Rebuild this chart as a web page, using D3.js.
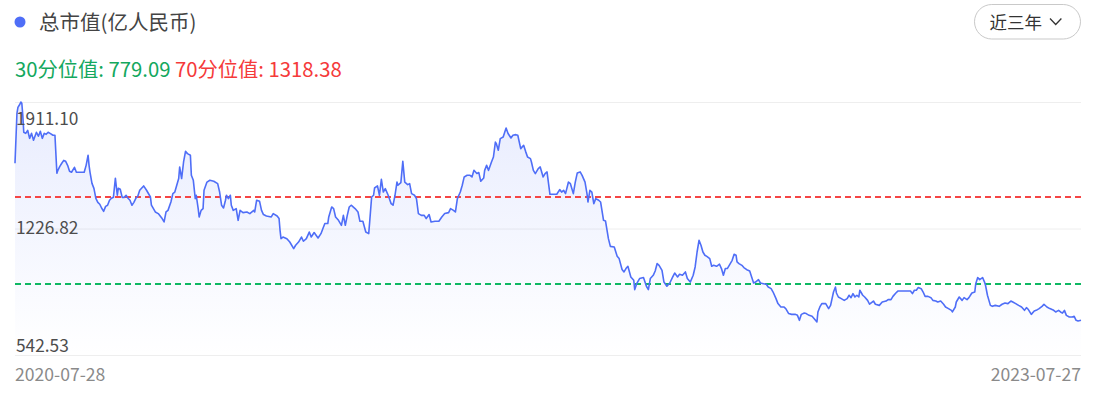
<!DOCTYPE html>
<html>
<head>
<meta charset="utf-8">
<script src="https://cdn.jsdelivr.net/npm/d3@7"></script>
<style>
    html, body { margin: 0; padding: 0; background: #fff; }
    svg { display: block; font-family: "Noto Sans CJK SC", "Noto Sans", sans-serif; }
</style>
</head>
<body>
<div id="chart"></div>
<script>
(function() {
    'use strict';

    // 总市值, 近三年 (calendar days since 2020-07-28, 亿人民币)
    let dayOffsets = [
        0, 2, 3, 5, 6, 7, 8, 9, 11, 13,
        15, 17, 19, 22, 24, 26, 28, 30, 32, 34,
        36, 39, 41, 43, 44, 46, 48, 50, 52, 54,
        56, 58, 61, 63, 67, 71, 73, 75, 76, 77,
        79, 81, 83, 85, 87, 89, 91, 93, 95, 97,
        99, 101, 103, 105, 106, 108, 110, 112, 114, 116,
        118, 120, 122, 124, 126, 128, 132, 135, 139, 140,
        144, 147, 151, 153, 155, 157, 160, 162, 164, 166,
        168, 169, 171, 173, 175, 177, 180, 181, 183, 185,
        186, 188, 189, 191, 193, 194, 197, 200, 204, 208,
        210, 212, 214, 216, 217, 219, 221, 222, 224, 227,
        229, 231, 234, 238, 241, 245, 246, 248, 251, 253,
        255, 258, 263, 265, 269, 271, 272, 273, 275, 279,
        282, 286, 288, 291, 294, 296, 299, 302, 304, 307,
        311, 314, 316, 318, 321, 322, 325, 327, 329, 332,
        335, 337, 339, 341, 343, 345, 349, 352, 354, 357,
        360, 363, 364, 366, 368, 369, 372, 374, 376, 378,
        380, 383, 386, 388, 390, 392, 393, 396, 398, 400,
        403, 405, 407, 410, 412, 414, 417, 420, 422, 425,
        427, 431, 435, 438, 441, 445, 447, 450, 452, 454,
        457, 459, 461, 464, 467, 469, 471, 474, 476, 478,
        481, 482, 484, 486, 489, 491, 493, 494, 496, 498,
        501, 504, 506, 509, 511, 514, 516, 519, 522, 524,
        526, 529, 530, 532, 534, 537, 539, 542, 544, 546,
        549, 552, 556, 559, 561, 563, 565, 568, 570, 573,
        575, 577, 580, 582, 585, 587, 588, 590, 592, 594,
        596, 599, 601, 604, 606, 609, 611, 615, 618, 620,
        623, 625, 627, 629, 632, 635, 636, 638, 641, 645,
        648, 650, 652, 655, 657, 659, 661, 664, 666, 669,
        672, 675, 677, 680, 682, 685, 688, 690, 693, 696,
        698, 700, 702, 704, 706, 708, 710, 713, 715, 717,
        720, 723, 725, 727, 729, 731, 733, 736, 738, 740,
        741, 743, 746, 748, 751, 754, 756, 758, 760, 763,
        765, 768, 771, 773, 776, 778, 781, 783, 786, 789,
        791, 794, 797, 801, 803, 805, 807, 810, 812, 815,
        818, 820, 823, 824, 826, 828, 832, 835, 837, 840,
        842, 843, 845, 848, 851, 854, 856, 858, 860, 862,
        864, 866, 867, 870, 872, 875, 877, 881, 883, 887,
        890, 894, 896, 899, 901, 904, 906, 910, 915, 919,
        921, 923, 925, 927, 930, 932, 934, 937, 940, 942,
        945, 947, 950, 953, 955, 958, 961, 962, 965, 966,
        969, 972, 974, 977, 979, 982, 985, 986, 988, 990,
        993, 995, 996, 998, 1001, 1003, 1006, 1010, 1013, 1016,
        1019, 1022, 1024, 1027, 1030, 1033, 1036, 1038, 1040, 1043,
        1046, 1048, 1051, 1054, 1056, 1059, 1062, 1066, 1068, 1071,
        1073, 1075, 1077, 1079, 1082, 1085, 1087, 1089, 1091, 1094
    ];

    let marketCap = [
        1530, 1841, 1878, 1897, 1911.10, 1903, 1828, 1723, 1716, 1735,
        1685, 1716, 1673, 1723, 1698, 1729, 1685, 1716, 1710, 1723,
        1716, 1704, 1704, 1468, 1486, 1511, 1530, 1548, 1542, 1517,
        1480, 1474, 1505, 1474, 1474, 1474, 1517, 1580, 1517, 1474,
        1405, 1374, 1312, 1287, 1275, 1250, 1231, 1262, 1269, 1300,
        1312, 1318, 1437, 1331, 1374, 1368, 1318, 1318, 1331, 1312,
        1300, 1269, 1287, 1312, 1325, 1362, 1389, 1362, 1320, 1269,
        1227, 1217, 1186, 1165, 1227, 1237, 1289, 1341, 1351, 1393,
        1435, 1507, 1435, 1538, 1604, 1590, 1580, 1455, 1424, 1310,
        1331, 1248, 1196, 1237, 1248, 1362, 1413, 1424, 1418, 1403,
        1351, 1269, 1252, 1300, 1331, 1310, 1331, 1269, 1237, 1248,
        1175, 1237, 1223, 1227, 1217, 1237, 1227, 1300, 1293, 1237,
        1211, 1202, 1196, 1217, 1202, 1186, 1113, 1061, 1071, 1061,
        1040, 999, 1020, 1040, 1071, 1045, 1061, 1102, 1071, 1099,
        1065, 1092, 1124, 1155, 1155, 1196, 1258, 1248, 1196, 1175,
        1144, 1206, 1144, 1206, 1258, 1269, 1248, 1227, 1169, 1169,
        1102, 1092, 1165, 1320, 1331, 1376, 1389, 1331, 1430, 1351,
        1372, 1331, 1279, 1269, 1331, 1413, 1393, 1410, 1542, 1413,
        1397, 1403, 1341, 1331, 1310, 1217, 1206, 1206, 1186, 1211,
        1165, 1169, 1169, 1196, 1217, 1223, 1248, 1237, 1227, 1310,
        1351, 1393, 1445, 1455, 1455, 1445, 1486, 1466, 1472, 1418,
        1438, 1486, 1517, 1486, 1538, 1569, 1662, 1652, 1611, 1683,
        1693, 1749, 1715, 1687, 1704, 1708, 1704, 1621, 1642, 1604,
        1569, 1559, 1538, 1486, 1466, 1497, 1507, 1445, 1466, 1476,
        1337, 1337, 1337, 1366, 1351, 1362, 1341, 1413, 1403, 1341,
        1413, 1469, 1476, 1455, 1413, 1341, 1289, 1362, 1351, 1279,
        1310, 1300, 1289, 1175, 1171, 1061, 1013, 1009, 951, 937,
        869, 854, 875, 889, 823, 802, 744, 781, 813, 819,
        765, 744, 813, 833, 860, 906, 895, 864, 791, 765,
        785, 823, 847, 823, 839, 833, 854, 813, 791, 833,
        885, 978, 1051, 1020, 978, 958, 951, 937, 889, 895,
        889, 902, 875, 833, 875, 875, 895, 926, 964, 958,
        916, 906, 895, 881, 868, 860, 823, 785, 791, 806,
        785, 781, 777, 760, 750, 729, 688, 657, 636, 636,
        626, 595, 590, 590, 584, 553, 590, 598, 595, 584,
        578, 564, 542.53, 605, 636, 657, 657, 626, 646, 729,
        760, 723, 698, 688, 677, 688, 709, 694, 719, 698,
        709, 698, 740, 709, 698, 677, 653, 673, 653, 646,
        667, 673, 682, 682, 702, 723, 735, 735, 735, 735,
        719, 740, 740, 757, 750, 729, 702, 702, 694, 677,
        673, 667, 673, 653, 636, 626, 615, 605, 636, 667,
        698, 677, 694, 682, 694, 723, 729, 781, 819, 806,
        819, 791, 771, 709, 646, 640, 646, 640, 653, 661,
        657, 673, 667, 657, 646, 636, 615, 632, 620, 590,
        611, 615, 626, 640, 653, 636, 626, 615, 605, 615,
        605, 598, 615, 584, 574, 574, 578, 553, 549, 553
    ];

    let startDate = "2020-07-28";
    let tickLabels = [ "1911.10", "1226.82", "542.53" ];
    let dateLabels = [ "2020-07-28", "2023-07-27" ];
    let quantileNames = [ "30分位值", "70分位值" ];
    let quantileValues = [ 779.09, 1318.38 ];
    let quantileColors = [ "#14a85e", "#f53a3a" ];
    let lineColors = [ "#0fb863", "#f54545" ];

    let width = 1101;
    let height = 406;
    let left = 15;
    let right = 1081;
    let top = 102;
    let bottom = 355;

    let parse = d3.timeParse("%Y-%m-%d");
    let t0 = parse(startDate);
    let data = dayOffsets.map(function(d, i) {
        return { date: d3.timeDay.offset(t0, d), value: marketCap[i] };
    });

    let svg = d3.select("#chart").append("svg")
        .attr("width", width)
        .attr("height", height);

    // header
    svg.append("circle")
        .attr("cx", 20).attr("cy", 22).attr("r", 5.5)
        .attr("fill", "#4f6ef7");
    svg.append("text")
        .attr("x", 39).attr("y", 29.5)
        .attr("font-size", 20.5)
        .attr("fill", "#444")
        .text("总市值(亿人民币)");

    let qText = svg.append("text")
        .attr("x", 15).attr("y", 77)
        .attr("font-size", 20.3);
    quantileNames.forEach(function(name, i) {
        qText.append("tspan")
            .attr("fill", quantileColors[i])
            .text((i ? " " : "") + name + ": " + d3.format(".2f")(quantileValues[i]));
    });

    // range selector
    let btn = svg.append("g");
    btn.append("rect")
        .attr("x", 974.5).attr("y", 4.5)
        .attr("width", 106).attr("height", 34.5)
        .attr("rx", 17.25)
        .attr("fill", "#fff")
        .attr("stroke", "#c9c9c9");
    btn.append("text")
        .attr("x", 989.5).attr("y", 28.5)
        .attr("font-size", 17.5)
        .attr("fill", "#333")
        .text("近三年");
    btn.append("path")
        .attr("d", "M1050,18.5L1055.7,24.5L1061.4,18.5")
        .attr("fill", "none")
        .attr("stroke", "#333")
        .attr("stroke-width", 1.3);

    // scales
    let x = d3.scaleTime()
        .domain(d3.extent(data, function(d) { return d.date; }))
        .range([ left, right ]);

    let vMin = d3.min(marketCap);
    let vMax = d3.max(marketCap);
    let y = d3.scaleLinear()
        .domain([ vMin - (vMax - vMin) * 0.15, vMax ])
        .range([ bottom, top ]);

    let grid = d3.scalePoint()
        .domain(tickLabels)
        .range([ top, bottom ]);

    svg.append("g").selectAll("line")
        .data(tickLabels)
        .enter()
        .append("line")
        .attr("x1", left).attr("x2", right)
        .attr("y1", function(d) { return grid(d) + 0.5; })
        .attr("y2", function(d) { return grid(d) + 0.5; })
        .attr("stroke", "#eeeeee");

    // area + line
    let defs = svg.append("defs");
    let grad = defs.append("linearGradient")
        .attr("id", "capFill")
        .attr("gradientUnits", "userSpaceOnUse")
        .attr("x1", 0).attr("x2", 0)
        .attr("y1", top).attr("y2", bottom);
    grad.append("stop").attr("offset", "0%").attr("stop-color", "#4f6ef7").attr("stop-opacity", 0.13);
    grad.append("stop").attr("offset", "100%").attr("stop-color", "#4f6ef7").attr("stop-opacity", 0.0);

    let area = d3.area()
        .x(function(d) { return x(d.date); })
        .y0(bottom)
        .y1(function(d) { return y(d.value); });

    let line = d3.line()
        .x(function(d) { return x(d.date); })
        .y(function(d) { return y(d.value); });

    svg.append("path")
        .datum(data)
        .attr("d", area)
        .attr("fill", "url(#capFill)");

    // quantile reference lines, snapped to the pixel grid
    svg.append("g").selectAll("line")
        .data(quantileValues)
        .enter()
        .append("line")
        .attr("x1", left).attr("x2", right)
        .attr("y1", function(d) { return Math.round(y(d)); })
        .attr("y2", function(d) { return Math.round(y(d)); })
        .attr("stroke", function(d, i) { return lineColors[i]; })
        .attr("stroke-width", 2)
        .attr("stroke-dasharray", "6,4");

    svg.append("path")
        .datum(data)
        .attr("d", line)
        .attr("fill", "none")
        .attr("stroke", "#4f6ef7")
        .attr("stroke-width", 1.6)
        .attr("stroke-linejoin", "round");

    // y labels: top one hangs below its line, middle centred, bottom sits above
    svg.append("g").selectAll("text")
        .data(tickLabels)
        .enter()
        .append("text")
        .attr("x", left + 1)
        .attr("y", function(d, i) { return grid(d) + [ 22.5, 5.5, -3.5 ][i]; })
        .attr("font-size", 17.3)
        .attr("fill", "#4d4d4d")
        .text(function(d) { return d; });

    // date labels
    svg.append("g").selectAll("text")
        .data(dateLabels)
        .enter()
        .append("text")
        .attr("x", function(d) { return x(parse(d)); })
        .attr("y", 380.5)
        .attr("text-anchor", function(d, i) { return i ? "end" : "start"; })
        .attr("font-size", 17.6)
        .attr("fill", "#8a8a8a")
        .text(function(d) { return d; });
})();
</script>
</body>
</html>
